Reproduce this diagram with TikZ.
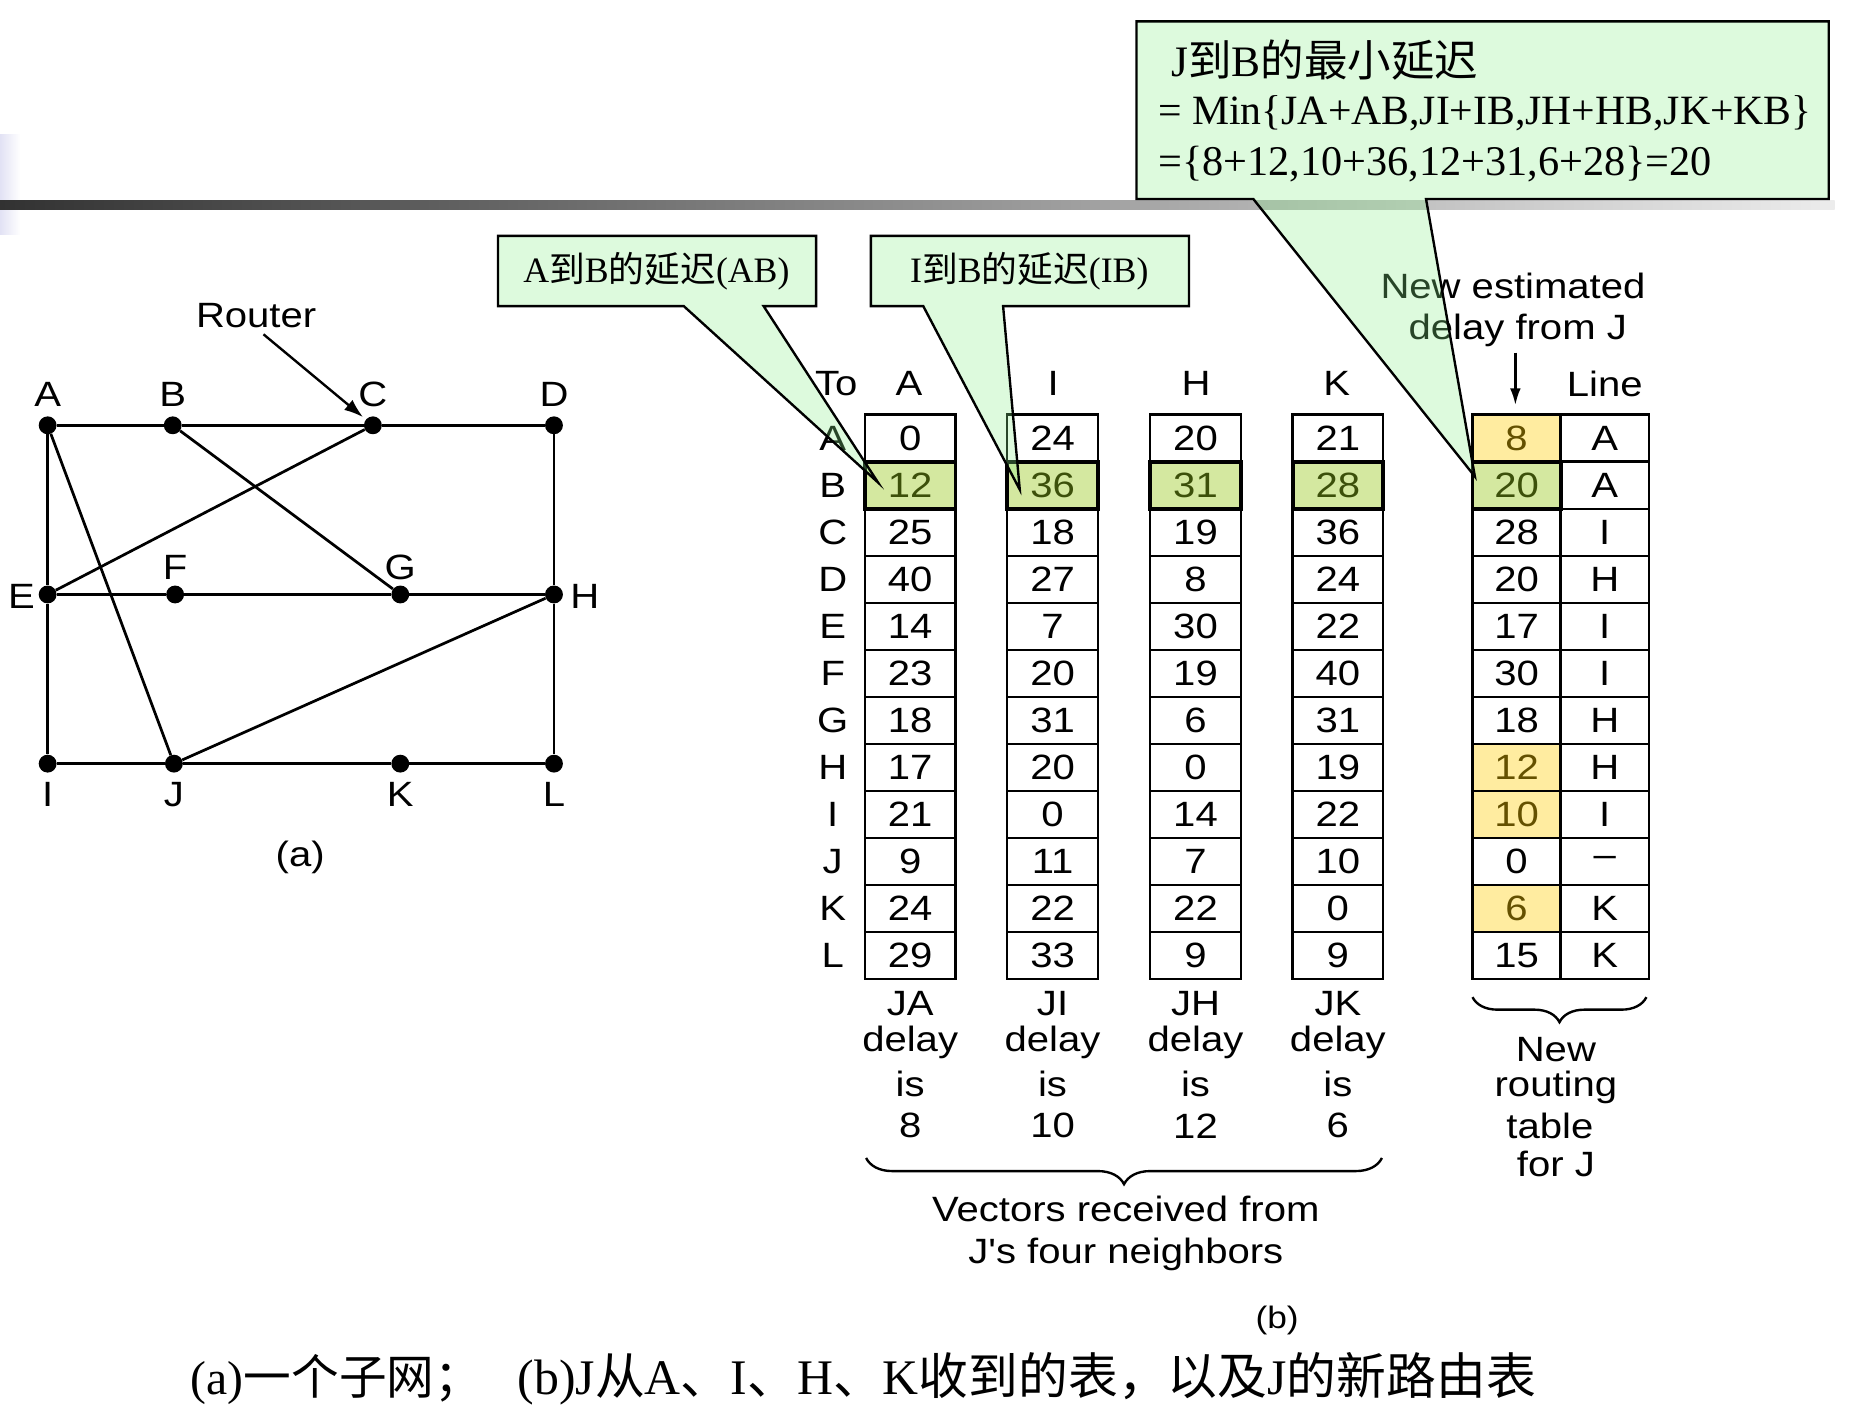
\documentclass[tikz,border=0pt]{standalone}
\usepackage{fontspec}
\setmainfont{Liberation Serif}
\setsansfont{Liberation Sans}
\newfontfamily\cjkf{Noto Sans CJK SC}
\newfontfamily\arialf[FakeStretch=1.14]{Liberation Sans}
\usetikzlibrary{arrows.meta,decorations.pathreplacing,calc}
\definecolor{callfill}{RGB}{138,238,138}
\definecolor{cellgreen}{RGB}{212,232,160}
\definecolor{txtgreen}{RGB}{60,80,10}
\definecolor{cellyellow}{RGB}{255,236,160}
\definecolor{txtyellow}{RGB}{100,80,0}
\newcommand{\zhtxt}[1]{{\cjkf #1}}
\begin{document}
\begin{tikzpicture}[x=1pt,y=-1pt,
  rdot/.style={circle,fill=black,inner sep=0pt,minimum size=15pt},
  netlink/.style={line width=2.3pt},
  lab/.style={font=\arialf\fontsize{29.5}{33}\selectfont, inner sep=0pt},
  cellbox/.style={draw, line width=2pt, minimum width=76pt, minimum height=39.5pt, inner sep=0pt, font=\arialf\fontsize{29.5}{33}\selectfont, fill=white},
  greencell/.style={fill=cellgreen, text=txtgreen, line width=3.2pt},
  yellowcell/.style={fill=cellyellow, text=txtyellow},
  callout/.style={fill=callfill, fill opacity=0.29, draw=black, line width=2pt, line join=miter},
  bracestyle/.style={decorate, line width=2pt},
]
\useasboundingbox (0,0) rectangle (1568,1185);
\fill[white] (0,0) rectangle (1568,1185);
% slide decorations
\shade[left color={rgb,255:red,226;green,226;blue,244}, right color=white] (0,113) rectangle (17,197);
\shade[left color={rgb,255:red,50;green,50;blue,50}, right color={rgb,255:red,236;green,236;blue,236}] (0,168) rectangle (1540,176);

% ---------- (a) network ----------
\foreach \n/\x/\y in {A/40/357,B/145/357,C/313/357,D/465/357,E/40/499,F/147/499,G/336/499,H/465/499,I/40/641,J/146/641,K/336/641,L/465/641}
  \node[rdot] (r\n) at (\x,\y) {};
\draw[netlink] (rA) -- (rB);
\draw[netlink] (rB) -- (rC);
\draw[netlink] (rC) -- (rD);
\draw[netlink] (rD) -- (rH);
\draw[netlink] (rH) -- (rL);
\draw[netlink] (rA) -- (rE);
\draw[netlink] (rE) -- (rI);
\draw[netlink] (rE) -- (rF);
\draw[netlink] (rF) -- (rG);
\draw[netlink] (rG) -- (rH);
\draw[netlink] (rI) -- (rJ);
\draw[netlink] (rJ) -- (rK);
\draw[netlink] (rK) -- (rL);
\draw[netlink] (rB) -- (rG);
\draw[netlink] (rC) -- (rE);
\draw[netlink] (rA) -- (rJ);
\draw[netlink] (rJ) -- (rH);

\node[lab] (lA) at (40,331) {A};
\node[lab] (lB) at (145,331) {B};
\node[lab] (lC) at (313,331) {C};
\node[lab] (lD) at (465,331) {D};
\node[lab] (lE) at (18,501) {E};
\node[lab] (lF) at (147,476) {F};
\node[lab] (lG) at (336,476) {G};
\node[lab] (lH) at (491,501) {H};
\node[lab] (lI) at (40,667) {I};
\node[lab] (lJ) at (146,667) {J};
\node[lab] (lK) at (336,667) {K};
\node[lab] (lL) at (465,667) {L};
\node[lab] (router) at (215,265) {Router};
\draw[line width=2pt, -{Latex[length=16pt,width=11pt]}, shorten <=8pt, shorten >=3pt] (router.south) -- (rC);
\node[lab] (capa) at (252,720) {(a)};

% ---------- (b) tables ----------
\node[lab] (hTo) at (702,322) {To};
\node[lab] (hA) at (763,322) {A};
\node[lab] (hI) at (884,322) {I};
\node[lab] (hH) at (1004,322) {H};
\node[lab] (hK) at (1122,322) {K};
\node[lab] (hLine) at (1347,322) {Line};
\foreach \r [count=\i from 0] in {A,B,C,D,E,F,G,H,I,J,K,L}
  \node[lab] (row\r) at (699,{367.75+39.5*\i}) {\r};

\foreach \v [count=\i from 0] in {0,12,25,40,14,23,18,17,21,9,24,29}
  \node[cellbox] (ja\i) at (764,{367.75+39.5*\i}) {\v};
\foreach \v [count=\i from 0] in {24,36,18,27,7,20,31,20,0,11,22,33}
  \node[cellbox] (ji\i) at (883.5,{367.75+39.5*\i}) {\v};
\foreach \v [count=\i from 0] in {20,31,19,8,30,19,6,0,14,7,22,9}
  \node[cellbox] (jh\i) at (1003.5,{367.75+39.5*\i}) {\v};
\foreach \v [count=\i from 0] in {21,28,36,24,22,40,31,19,22,10,0,9}
  \node[cellbox] (jk\i) at (1123,{367.75+39.5*\i}) {\v};
\node[cellbox, greencell] (jaB) at (ja1) {12};
\node[cellbox, greencell] (jiB) at (ji1) {36};
\node[cellbox, greencell] (jhB) at (jh1) {31};
\node[cellbox, greencell] (jkB) at (jk1) {28};

\foreach \v/\l [count=\i from 0] in {8/A,20/A,28/I,20/H,17/I,30/I,18/H,12/H,10/I,0/\textendash,6/K,15/K}{
  \node[cellbox, minimum width=74pt] (nd\i) at (1273,{367.75+39.5*\i}) {\v};
  \node[cellbox, minimum width=74pt] (nl\i) at (1347,{367.75+39.5*\i}) {\l};
}
\node[cellbox, minimum width=74pt, yellowcell] (ndA) at (nd0) {8};
\node[cellbox, minimum width=74pt, greencell] (ndB) at (nd1) {20};
\node[cellbox, minimum width=74pt, yellowcell] (ndH) at (nd7) {12};
\node[cellbox, minimum width=74pt, yellowcell] (ndI) at (nd8) {10};
\node[cellbox, minimum width=74pt, yellowcell] (ndK) at (nd10) {6};

\node[lab] (ne1) at (1270,240) {New estimated};
\node[lab] (ne2) at (1274,277) {delay from J};
\coordinate (arrtop) at (1272,296);
\draw[line width=2pt, -{Latex[length=14pt,width=9pt]}, shorten >=7pt] (arrtop) -- (arrtop |- ndA.north);

\foreach \c/\x/\d in {JA/764/8, JI/883.5/10, JH/1003.5/12, JK/1123/6}{
  \node[lab] (b\c1) at (\x,842) {\c};
  \node[lab] (b\c2) at (\x,875) {delay};
  \node[lab] (b\c3) at (\x,910) {is};
  \node[lab] (b\c4) at (\x,945) {\d};
}
\coordinate (brL) at (727,972);
\coordinate (brR) at (1160,972);
\draw[bracestyle, decoration={brace,amplitude=22pt,mirror}] (brL) -- (brR);
\node[lab] (vec1) at (945,1015) {Vectors received from};
\node[lab] (vec2) at (945,1053) {J's four neighbors};

\coordinate (nbL) at (1236,837);
\coordinate (nbR) at (1382,837);
\draw[bracestyle, decoration={brace,amplitude=21pt,mirror}] (nbL) -- (nbR);
\node[lab] (nr1) at (1306,881) {New};
\node[lab] (nr2) at (1306,913) {routing};
\node[lab] (nr3) at (1301,945) {table};
\node[lab] (nr4) at (1306,977) {for J};

\node[lab, font=\arialf\fontsize{26}{30}\selectfont] (capb) at (1072,1108) {(b)};

% ---------- callouts ----------
\coordinate (tipAB) at (737,405);
\coordinate (tipIB) at (856,411);
\coordinate (tipJB) at (1238,400);
\path[callout] (418,198) -- (685,198) -- (685,257) -- (641,257) -- (tipAB) -- (574,257) -- (418,257) -- cycle;
\node[inner sep=0pt, font=\fontsize{30}{34}\selectfont] (tAB) at (551,228) {A\zhtxt{到}B\zhtxt{的延迟}(AB)};
\path[callout] (731,198) -- (998,198) -- (998,257) -- (842,257) -- (tipIB) -- (775,257) -- (731,257) -- cycle;
\node[inner sep=0pt, font=\fontsize{30}{34}\selectfont] (tIB) at (864,228) {I\zhtxt{到}B\zhtxt{的延迟}(IB)};
\path[callout] (954,18) -- (1535,18) -- (1535,167) -- (1197,167) -- (tipJB) -- (1052,167) -- (954,167) -- cycle;
\node[anchor=west, inner sep=0pt, font=\fontsize{36.5}{40}\selectfont] (tJ1) at (983,50) {J\zhtxt{到}B\zhtxt{的最小延迟}};
\node[anchor=west, inner sep=0pt, font=\fontsize{35}{40}\selectfont] (tJ2) at (972,95) {= Min\{JA+AB,JI+IB,JH+HB,JK+KB\}};
\node[anchor=west, inner sep=0pt, font=\fontsize{35.5}{40}\selectfont] (tJ3) at (972,138) {=\{8+12,10+36,12+31,6+28\}=20};

% ---------- caption ----------
\node[anchor=west, inner sep=0pt, font=\fontsize{40}{44}\selectfont] (caption) at (160,1157)
  {(a)\zhtxt{一个子网；}\hspace{30pt}{\fontsize{41.8}{44}\selectfont(b)J\zhtxt{从}A\zhtxt{、}I\zhtxt{、}H\zhtxt{、}K\zhtxt{收到的表，以及}J\zhtxt{的新路由表}}};
\end{tikzpicture}
\end{document}
